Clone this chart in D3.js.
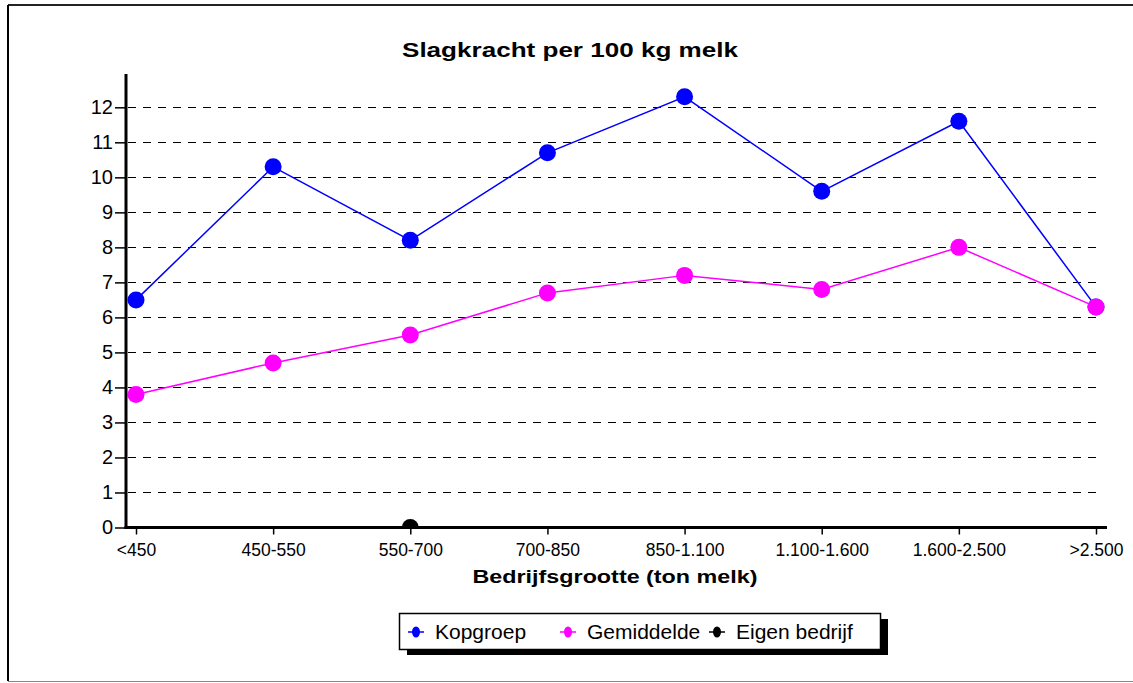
<!DOCTYPE html>
<html lang="nl">
<head>
  <meta charset="UTF-8">
  <title>Slagkracht per 100 kg melk</title>
  <script src="https://d3js.org/d3.v7.min.js"></script>
  <style>
    body { margin: 0; background: #fff; font-family: "Liberation Sans", Arial, sans-serif; }
    svg { display: block; }
    .grid line { stroke: #000; stroke-dasharray: 8,7; stroke-width: 1; }
    .axis text { font-family: "Liberation Sans", Arial, sans-serif; fill: #000; }
  </style>
</head>
<body>
  <svg width="1133" height="683"></svg>
  <script>
    const categories = ["<450", "450-550", "550-700", "700-850", "850-1.100", "1.100-1.600", "1.600-2.500", ">2.500"];
    const kopgroep = [6.5, 10.3, 8.2, 10.7, 12.3, 9.6, 11.6, 6.3];
    const gemiddelde = [3.8, 4.7, 5.5, 6.7, 7.2, 6.8, 8.0, 6.3];
    const eigenBedrijf = [null, null, 0, null, null, null, null, null];
    const yTicks = [0, 1, 2, 3, 4, 5, 6, 7, 8, 9, 10, 11, 12];

    const series = [
      { name: "Kopgroep", values: kopgroep, color: "#0000ff" },
      { name: "Gemiddelde", values: gemiddelde, color: "#ff00ff" },
      { name: "Eigen bedrijf", values: eigenBedrijf, color: "#000000" }
    ];

    const svg = d3.select("svg");

    // outer frame
    svg.append("line").attr("x1", 8).attr("y1", 5).attr("x2", 1133).attr("y2", 5)
      .attr("stroke", "#222").attr("stroke-width", 2);
    svg.append("line").attr("x1", 8).attr("y1", 5).attr("x2", 8).attr("y2", 681)
      .attr("stroke", "#000").attr("stroke-width", 2);
    svg.append("line").attr("x1", 8).attr("y1", 681.5).attr("x2", 1133).attr("y2", 681.5)
      .attr("stroke", "#888").attr("stroke-width", 1);

    const x = d3.scalePoint().domain(categories).range([136, 1096]);
    const y = d3.scaleLinear().domain([0, 12]).range([527.5, 107.3]);

    const axisLeft = 126, axisRight = 1107, axisTop = 74;

    // title
    svg.append("text")
      .attr("x", 570).attr("y", 57)
      .attr("text-anchor", "middle")
      .attr("font-size", 21).attr("font-weight", "bold")
      .attr("textLength", 336).attr("lengthAdjust", "spacingAndGlyphs")
      .text("Slagkracht per 100 kg melk");

    // gridlines
    svg.append("g").attr("class", "grid")
      .selectAll("line")
      .data(yTicks.filter(d => d > 0))
      .enter().append("line")
      .attr("x1", axisLeft + 2).attr("x2", 1101)
      .attr("y1", d => Math.round(y(d)) + 0.5)
      .attr("y2", d => Math.round(y(d)) + 0.5);

    // lines and points (clipped to the plot area)
    svg.append("clipPath").attr("id", "plot")
      .append("rect").attr("x", axisLeft).attr("y", 60)
      .attr("width", 1010).attr("height", y(0) - 60);

    const plot = svg.append("g").attr("clip-path", "url(#plot)");
    const line = d3.line()
      .defined(d => d != null)
      .x((d, i) => x(categories[i]))
      .y(d => y(d));

    series.forEach(s => {
      plot.append("path")
        .attr("d", line(s.values))
        .attr("fill", "none")
        .attr("stroke", s.color)
        .attr("stroke-width", 1.5);
      plot.selectAll(null)
        .data(s.values.map((v, i) => ({ v, c: categories[i] })).filter(d => d.v != null))
        .enter().append("circle")
        .attr("cx", d => x(d.c))
        .attr("cy", d => y(d.v))
        .attr("r", 8.5)
        .attr("fill", s.color);
    });

    // y axis
    const yAxis = svg.append("g").attr("class", "axis")
      .attr("transform", `translate(${axisLeft},0)`)
      .call(d3.axisLeft(y).tickValues(yTicks).tickSize(11).tickPadding(2).tickFormat(d3.format("d")));
    yAxis.select(".domain").remove();
    yAxis.selectAll(".tick line").attr("stroke", "#000").attr("stroke-width", 1.5);
    yAxis.selectAll("text").attr("font-size", 20);
    svg.append("line")
      .attr("x1", axisLeft).attr("x2", axisLeft)
      .attr("y1", axisTop).attr("y2", y(0) + 1.5)
      .attr("stroke", "#000").attr("stroke-width", 3);

    // x axis
    const xAxis = svg.append("g").attr("class", "axis")
      .attr("transform", `translate(0,${y(0)})`)
      .call(d3.axisBottom(x).tickSize(7).tickPadding(9));
    xAxis.select(".domain").remove();
    xAxis.selectAll(".tick line").attr("stroke", "#000").attr("stroke-width", 1.5);
    xAxis.selectAll("text").attr("font-size", 17.5);
    svg.append("line")
      .attr("x1", axisLeft - 1.5).attr("x2", axisRight)
      .attr("y1", y(0)).attr("y2", y(0))
      .attr("stroke", "#000").attr("stroke-width", 3);

    svg.append("text")
      .attr("x", 615).attr("y", 583)
      .attr("text-anchor", "middle")
      .attr("font-size", 18).attr("font-weight", "bold")
      .attr("textLength", 285).attr("lengthAdjust", "spacingAndGlyphs")
      .text("Bedrijfsgrootte (ton melk)");

    // legend
    const lg = svg.append("g").attr("transform", "translate(399,613)");
    lg.append("rect").attr("x", 8).attr("y", 6).attr("width", 481).attr("height", 36).attr("fill", "#000");
    lg.append("rect").attr("x", 0.5).attr("y", 0.5).attr("width", 481).attr("height", 36)
      .attr("fill", "#fff").attr("stroke", "#000").attr("stroke-width", 1.5);

    const legendX = [17, 169, 318];
    series.forEach((s, i) => {
      const item = lg.append("g").attr("transform", `translate(${legendX[i]},19)`);
      item.append("line").attr("x1", -8).attr("x2", 8).attr("y1", 0).attr("y2", 0)
        .attr("stroke", s.color).attr("stroke-width", 1.5);
      item.append("ellipse").attr("rx", 4).attr("ry", 5.5).attr("fill", s.color);
      item.append("text")
        .attr("x", 19).attr("y", 7)
        .attr("font-size", 21)
        .text(s.name);
    });
  </script>
</body>
</html>
